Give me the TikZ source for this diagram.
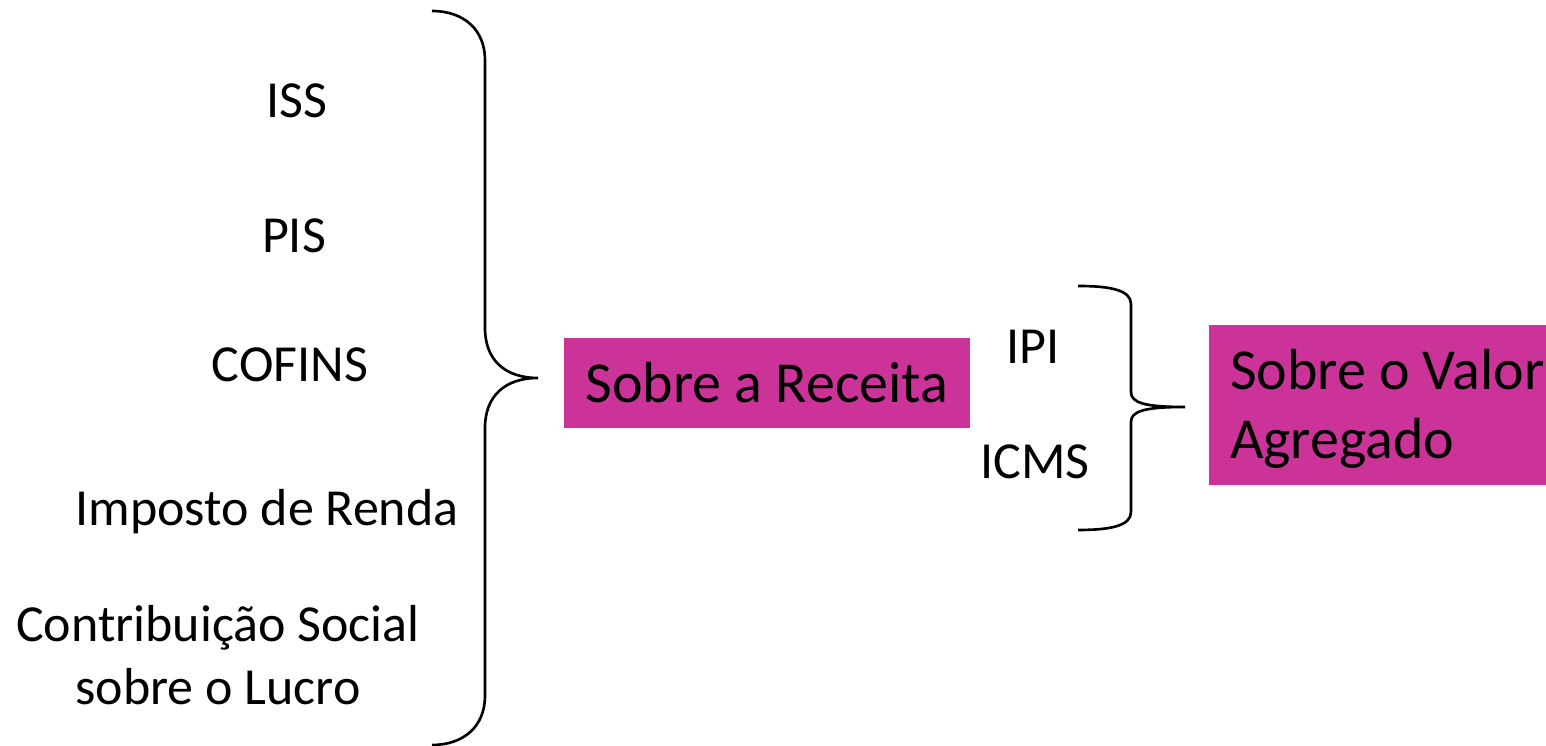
\documentclass[tikz,border=0pt]{standalone}
\usepackage{fontspec}
\setmainfont{Carlito}
\usetikzlibrary{arrows}
\definecolor{boxpink}{RGB}{204,51,153}
\begin{document}
\begin{tikzpicture}
\tikzstyle {txt}=[font=\fontsize{14.8}{18}\selectfont, align=center, inner sep=0pt]
\tikzstyle {pbox}=[rectangle, fill=boxpink, font=\fontsize{16.5}{19.6}\selectfont, inner sep=0pt]
\tikzstyle {brc}=[line width=0.75pt, black]
\useasboundingbox (0,0) rectangle (15.46,-7.46);
\node (iss) [txt] at (2.97,-1.01) {ISS};
\node (pis) [txt] at (2.94,-2.36) {PIS};
\node (cof) [txt] at (2.90,-3.65) {COFINS};
\node (ir) [txt] at (2.67,-5.12) {Imposto de Renda};
\node (csl) [txt] at (2.18,-6.55) {Contribuição Social\\sobre o Lucro};
\node (rec) [pbox, minimum width=4.06cm, minimum height=0.90cm] at (7.67,-3.83) {Sobre a Receita};
\node (ipi) [txt] at (10.33,-3.47) {IPI};
\node (icms) [txt] at (10.35,-4.62) {ICMS};
\node (va) [pbox, minimum width=3.37cm, minimum height=1.60cm] at (13.775,-4.05) {};
\node (vat) [pbox, fill=none, align=left, anchor=west] at ([xshift=0.21cm, yshift=-0.04cm]va.west) {Sobre o Valor\\Agregado};
% chave grande
\draw [brc] (4.32,-0.11) .. controls (4.64,-0.11) and (4.85,-0.30) .. (4.85,-0.60) -- (4.85,-3.28)
  .. controls (4.85,-3.60) and (5.05,-3.78) .. (5.38,-3.78)
  .. controls (5.05,-3.78) and (4.85,-3.96) .. (4.85,-4.28) -- (4.85,-6.96)
  .. controls (4.85,-7.26) and (4.64,-7.45) .. (4.32,-7.45);
% chave pequena
\draw [brc] (10.78,-2.86) .. controls (11.10,-2.86) and (11.31,-2.90) .. (11.31,-3.04) -- (11.31,-3.92)
  .. controls (11.31,-4.03) and (11.45,-4.07) .. (11.85,-4.07)
  .. controls (11.45,-4.07) and (11.31,-4.11) .. (11.31,-4.22) -- (11.31,-5.12)
  .. controls (11.31,-5.26) and (11.10,-5.30) .. (10.78,-5.30);
\end{tikzpicture}
\end{document}
